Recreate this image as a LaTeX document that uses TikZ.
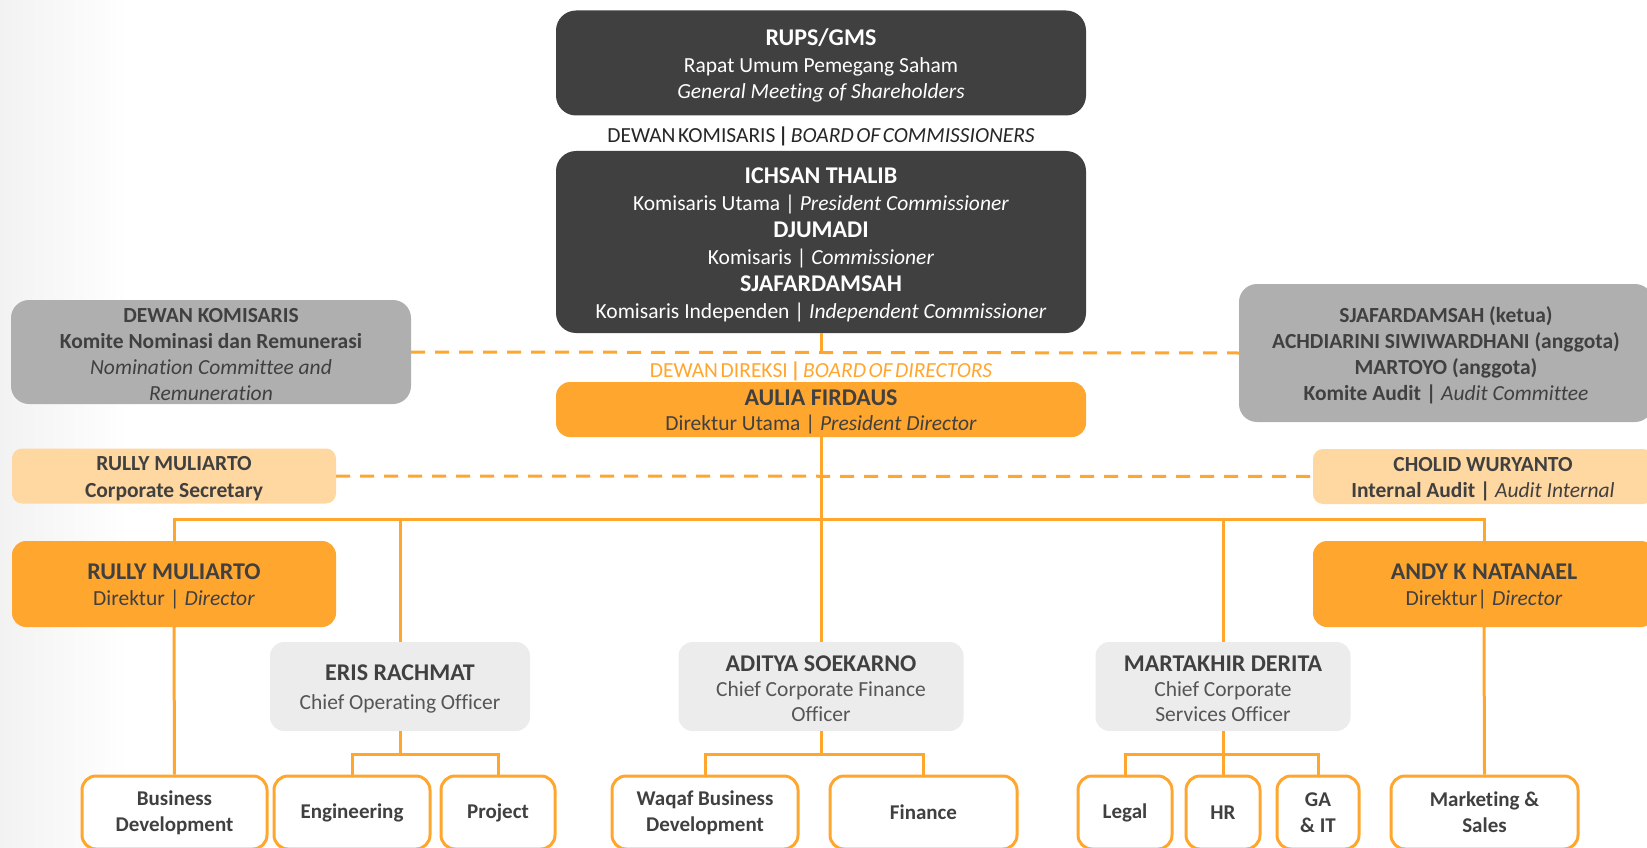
\documentclass[tikz,border=0pt]{standalone}
\usepackage{fontspec}
\setmainfont{Carlito}[Ligatures=NoCommon]
\definecolor{darkbox}{RGB}{64,64,64}
\definecolor{org}{RGB}{255,166,47}
\definecolor{lorg}{RGB}{255,215,160}
\definecolor{gbox}{RGB}{175,175,175}
\definecolor{lgbox}{RGB}{236,236,236}
\definecolor{txt}{RGB}{64,64,64}
\definecolor{gtxt}{RGB}{85,85,85}
\newcommand{\nm}[1]{{\fontsize{24}{26}\selectfont\bfseries #1}}
\newcommand{\tightsp}{\spaceskip=2.6pt plus 1pt\relax}
% box node + separate text node, text lowered slightly
\newcommand{\bx}[8]{%
  \node[#2, minimum width=#5pt, minimum height=#6pt] (#1) at (#3,#4) {};
  \node[#2text, #7] (#1T) at ([yshift=-2.6pt]#1.center) {#8};}
\tikzset{
  base/.style={inner sep=0pt, align=center, font=\fontsize{21.5}{26.5}\selectfont},
  darkb/.style={inner sep=0pt, fill=darkbox, rounded corners=20pt},
  darkbtext/.style={base, text=white},
  orgb/.style={inner sep=0pt, fill=org, rounded corners=14pt},
  orgbtext/.style={base, text=txt},
  lorgb/.style={inner sep=0pt, fill=lorg, rounded corners=10pt},
  lorgbtext/.style={base, text=txt},
  grayb/.style={inner sep=0pt, fill=gbox, rounded corners=18pt},
  graybtext/.style={base, text=txt, font=\fontsize{21.5}{26}\selectfont},
  lgrayb/.style={inner sep=0pt, fill=lgbox, rounded corners=14pt},
  lgraybtext/.style={base, text=gtxt, font=\fontsize{21.5}{25}\selectfont},
  unitb/.style={base, draw=org, line width=3pt, fill=white, text=txt, rounded corners=14pt, font=\fontsize{21}{26}\selectfont\bfseries},
  conn/.style={draw=org, line width=3pt},
  dconn/.style={draw=org, line width=3pt, dash pattern=on 14pt off 10pt},
  lbl/.style={inner sep=0pt, align=center, font=\fontsize{21.5}{26}\selectfont}
}
\begin{document}
\begin{tikzpicture}[x=1pt,y=-1pt]
\useasboundingbox (0,0) rectangle (1647,848);
\shade[left color=black!5, right color=white] (0,0) rectangle (130,848);
\coordinate (dj) at (821,353);
\coordinate (bar) at (821,519);
\coordinate (subE) at (400,754);
\coordinate (subA) at (821,754);
\coordinate (subM) at (1223,754);
% top boxes
\bx{rups}{darkb}{821}{63}{530}{105}{}
  {\nm{RUPS/GMS}\\Rapat Umum Pemegang Saham\\\textit{General Meeting of Shareholders}}
\node[lbl, text=black!85] (lblbc) at (821,136.5)
  {\tightsp DEWAN KOMISARIS \textbf{|} \textit{BOARD OF COMMISSIONERS}};
\bx{comm}{darkb}{821}{242}{530}{182}{font=\fontsize{21.5}{27}\selectfont}
  {\nm{ICHSAN THALIB}\\Komisaris Utama | \textit{President Commissioner}\\\nm{DJUMADI}\\Komisaris | \textit{Commissioner}\\\nm{SJAFARDAMSAH}\\Komisaris Independen | \textit{Independent Commissioner}}
\node[lbl, text=org] (lblbd) at (821,371)
  {\tightsp DEWAN DIREKSI \textbf{|} \textit{BOARD OF DIRECTORS}};
\bx{aulia}{orgb}{821}{409.5}{530}{55}{font=\fontsize{21.5}{25.5}\selectfont}
  {\nm{AULIA FIRDAUS}\\Direktur Utama | \textit{President Director}}
% committees
\bx{nom}{grayb}{211}{352}{400}{104}{}
  {\textbf{DEWAN KOMISARIS}\\\textbf{Komite Nominasi dan Remunerasi}\\\textit{Nomination Committee and}\\\textit{Remuneration}}
\bx{audit}{grayb}{1446}{353}{414}{138}{}
  {\textbf{SJAFARDAMSAH (ketua)}\\\textbf{ACHDIARINI SIWIWARDHANI (anggota)}\\\textbf{MARTOYO (anggota)}\\\textbf{Komite Audit |} \textit{Audit Committee}}
\bx{cs}{lorgb}{174}{476}{324}{55}{}
  {\textbf{RULLY MULIARTO}\\\textbf{Corporate Secretary}}
\bx{ia}{lorgb}{1483}{476.5}{340}{55}{}
  {\textbf{CHOLID WURYANTO}\\\textbf{Internal Audit |} \textit{Audit Internal}}
% directors
\bx{rully}{orgb}{174}{584}{324}{86}{}
  {\nm{RULLY MULIARTO}\\Direktur | \textit{Director}}
\bx{andy}{orgb}{1484}{584}{342}{86}{}
  {\nm{ANDY K NATANAEL}\\Direktur| \textit{Director}}
% officers
\bx{eris}{lgrayb}{400}{686.5}{260}{89}{font=\fontsize{21.5}{29}\selectfont}
  {\textcolor{txt}{\nm{ERIS RACHMAT}}\\Chief Operating Officer}
\bx{adit}{lgrayb}{821}{686.5}{285}{89}{}
  {\textcolor{txt}{\nm{ADITYA SOEKARNO}}\\Chief Corporate Finance\\Officer}
\bx{mart}{lgrayb}{1223}{686.5}{255}{89}{}
  {\textcolor{txt}{\nm{MARTAKHIR DERITA}}\\Chief Corporate\\Services Officer}
% units
\node[unitb, minimum width=185pt, minimum height=73pt] (bd) at (174.5,812.5) {Business\\Development};
\node[unitb, minimum width=156pt, minimum height=73pt] (eng) at (352,812.5) {Engineering};
\node[unitb, minimum width=114pt, minimum height=73pt] (proj) at (498,812.5) {Project};
\node[unitb, minimum width=186pt, minimum height=73pt] (waqaf) at (705,812.5) {Waqaf Business\\Development};
\node[unitb, minimum width=187pt, minimum height=73pt] (fin) at (923.5,812.5) {Finance};
\node[unitb, minimum width=94pt, minimum height=73pt] (legal) at (1125,812.5) {Legal};
\node[unitb, minimum width=74pt, minimum height=73pt] (hr) at (1223,812.5) {HR};
\node[unitb, minimum width=82pt, minimum height=73pt] (ga) at (1318,812.5) {GA\\\& IT};
\node[unitb, minimum width=187pt, minimum height=73pt] (mkt) at (1484.5,812.5) {Marketing \&\\Sales};
% connectors
\draw[dconn] (nom.east) -- (audit.west);
\draw[dconn] (cs.east) -- (ia.west);
\draw[conn] (comm.south) -- (dj);
\draw[conn] (aulia.south) -- (adit.north);
\draw[conn] (rully.north) -- (rully.north |- bar) -- (andy.north |- bar) -- (andy.north);
\draw[conn] (eris.north) -- (eris.north |- bar);
\draw[conn] (mart.north) -- (mart.north |- bar);
\draw[conn] (rully.south) -- (bd.north);
\draw[conn] (andy.south) -- (mkt.north);
\draw[conn] (eris.south) -- (subE);
\draw[conn] (eng.north) |- (subE) -| (proj.north);
\draw[conn] (adit.south) -- (subA);
\draw[conn] (waqaf.north) |- (subA) -| (fin.north);
\draw[conn] (mart.south) -- (hr.north);
\draw[conn] (legal.north) |- (subM) -| (ga.north);
\end{tikzpicture}
\end{document}
